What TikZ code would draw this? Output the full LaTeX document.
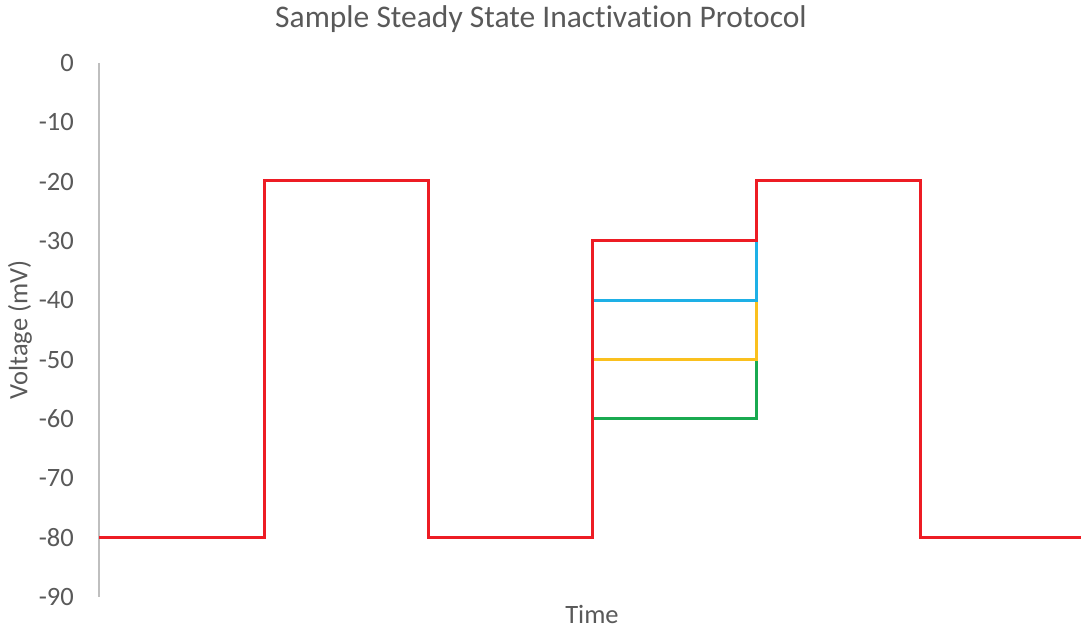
\documentclass[tikz,border=0pt]{standalone}
\usepackage{fontspec}
\setmainfont{Carlito}[Ligatures=NoCommon]
\usepackage{tikz}
\definecolor{txtgray}{RGB}{89,89,89}
\definecolor{axisgray}{RGB}{191,191,191}
\definecolor{trred}{RGB}{237,28,36}
\definecolor{trblue}{RGB}{30,176,230}
\definecolor{tryellow}{RGB}{250,192,30}
\definecolor{trgreen}{RGB}{25,170,80}
\tikzset{
  trace/.style={line width=3pt},
  axistext/.style={text=txtgray,font=\fontsize{26.5}{30}\selectfont},
  ticklabel/.style={axistext,anchor=east,inner sep=0pt}
}

\begin{document}
\begin{tikzpicture}[x=1pt,y=1pt]
            \useasboundingbox (0,0) rectangle (1081,-628);
            \node[text=txtgray,font=\fontsize{31.5}{36}\selectfont] (title) at (541,-19) {Sample Steady State Inactivation Protocol};
            % axis
            \draw[axisgray,line width=1.8pt] (99,-63) -- (99,-597);
            \foreach \v in {0,10,...,90} {
              \node[ticklabel] (tick\v) at (74,{-63-5.93*\v}) {\ifnum\v=0 0\else -\v\fi};
            }
            \node[axistext,rotate=90] (ylabel) at (20,-330) {Voltage (mV)};
            \node[axistext] (xlabel) at (592,-614) {Time};
            % conditioning steps
            \draw[trace,trgreen] (592,-418) -- (756,-418) -- (756,-359);
            \draw[trace,tryellow] (592,-359) -- (756,-359) -- (756,-300);
            \draw[trace,trblue] (592,-300) -- (756,-300) -- (756,-241);
            % main protocol
            \draw[trace,trred] (99,-537) -- (264,-537) -- (264,-181) -- (428,-181) -- (428,-537)
              -- (592,-537) -- (592,-241) -- (756,-241) -- (756,-181) -- (920,-181) -- (920,-537) -- (1081,-537);
            \end{tikzpicture}
\end{document}
